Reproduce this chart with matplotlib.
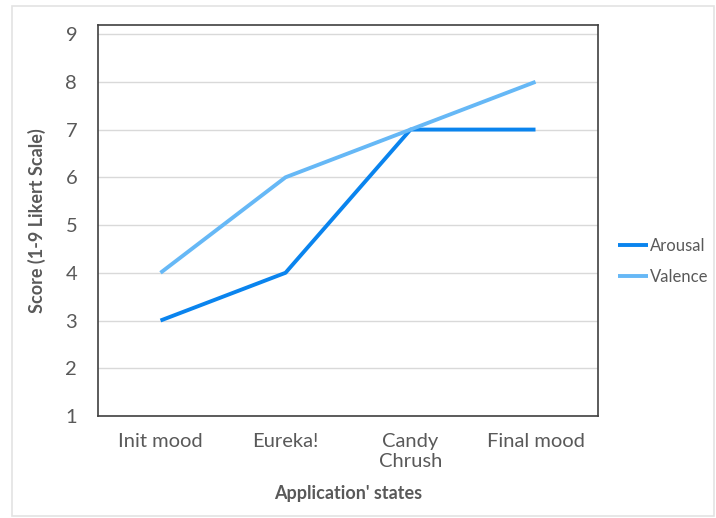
import numpy as np
import matplotlib.pyplot as plt
from matplotlib.patches import Rectangle

states = ['Init mood', 'Eureka!', 'Candy\nChrush', 'Final mood']
arousal = [3, 4, 7, 7]
valence = [4, 6, 7, 8]
y_ticks = [1, 2, 3, 4, 5, 6, 7, 8, 9]

plt.rcParams['font.family'] = ['Lato', 'DejaVu Sans']

fig = plt.figure(figsize=(7.16, 5.18), dpi=100)
ax = fig.add_axes([0.1369, 0.1969, 0.6983, 0.7548])

# light frame round the whole chart area
fig.patches.append(Rectangle((12 / 716, 2 / 518), 702 / 716, 510 / 518,
                             transform=fig.transFigure, fill=False,
                             edgecolor='#e3e3e3', linewidth=1.2))

x = np.arange(len(states))
ax.plot(x, arousal, color='#0a84ee', linewidth=2.8, label='Arousal',
        solid_capstyle='butt', zorder=3)
ax.plot(x, valence, color='#66b8f6', linewidth=2.8, label='Valence',
        solid_capstyle='butt', zorder=3)

ax.set_xlim(-0.5, 3.5)
ax.set_ylim(1, 9.19)
ax.set_yticks(y_ticks)
ax.set_xticks(x)
ax.set_xticklabels(states, fontsize=14.5, color='#595959', linespacing=1.25)
ax.tick_params(axis='y', labelsize=14.5, labelcolor='#595959', length=0, pad=15)
ax.tick_params(axis='x', length=0, pad=12)
ax.grid(axis='y', color='#d9d9d9', linewidth=1)
ax.set_axisbelow(True)
for s in ax.spines.values():
    s.set_color('#404040')
    s.set_linewidth(1.2)

ax.set_xlabel("Application' states", fontsize=13, fontweight='bold',
              color='#595959', labelpad=11)
ax.set_ylabel('Score (1-9 Likert Scale)', fontsize=13, fontweight='bold',
              color='#595959', labelpad=14)

fig.legend(loc='center left', bbox_to_anchor=(0.863, 0.495), frameon=False,
           fontsize=12, handlelength=1.8, handletextpad=0.1,
           labelspacing=0.9, borderpad=0, borderaxespad=0,
           labelcolor='#595959')

fig.savefig('out.png', dpi=100)
